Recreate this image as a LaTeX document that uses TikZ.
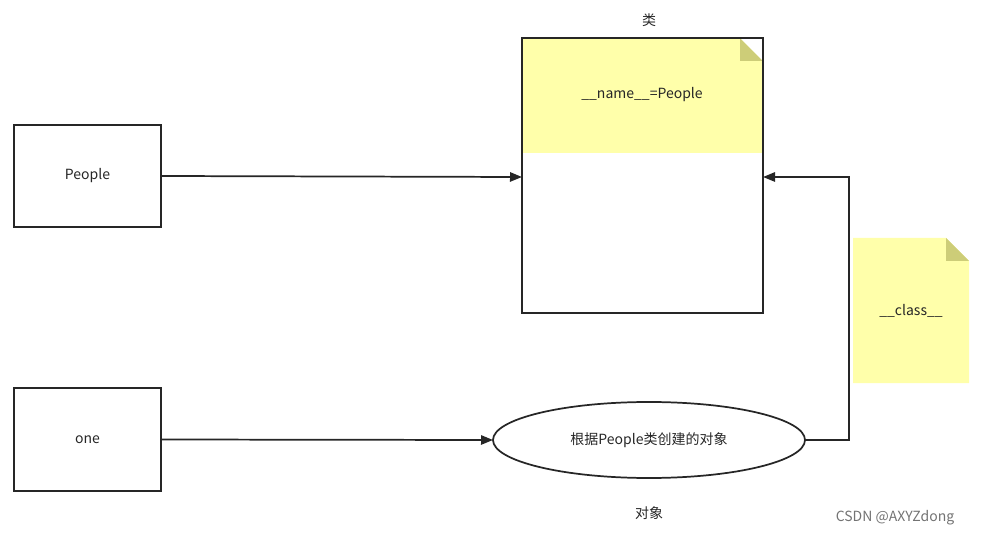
\documentclass[tikz,border=0pt]{standalone}
\usepackage{fontspec}
\setmainfont{Noto Sans CJK SC}
\usetikzlibrary{arrows.meta}
\definecolor{noteY}{HTML}{FFFFAA}
\definecolor{foldY}{HTML}{CDCD78}
\tikzset{
  box/.style={draw=black!85,line width=1.3pt},
  conn/.style={draw=black!85,line width=1.3pt,-{Triangle[length=9pt,width=7pt]}},
  txt/.style={font=\fontsize{10.5pt}{12pt}\selectfont,text=black!85}
}
\begin{document}
\begin{tikzpicture}[x=0.75pt,y=-0.75pt]
\useasboundingbox (0,0) rectangle (989,538);
% People / one boxes
\node[box,minimum width=110.25pt,minimum height=76.5pt,txt] (people) at (87.5,176) {People};
\node[box,minimum width=110.25pt,minimum height=77.25pt,txt] (one) at (87.5,439.5) {one};
% class box
\fill[noteY] (522,38) rectangle (763,153);
\fill[foldY] (740,38) -- (763,61) -- (740,61) -- cycle;
\fill[white] (740,38) -- (763,38) -- (763,61) -- cycle;
\draw[box] (522,38) rectangle (763,313);
\node[txt] (cname) at (642,95) {\_\_name\_\_=People};
\node[txt] (clabel) at (649,20) {类};
\coordinate (cwest) at (522,177);
\coordinate (ceast) at (763,177);
% note
\fill[noteY] (853,238) -- (946,238) -- (969,261) -- (969,383) -- (853,383) -- cycle;
\fill[foldY] (946,238) -- (969,261) -- (946,261) -- cycle;
\node[txt] (note) at (911,311) {\_\_class\_\_};
% ellipse
\draw[box] (649,440) ellipse [x radius=156, y radius=38];
\node[txt] (obj) at (649,440) {根据People类创建的对象};
\coordinate (ewest) at (493,440);
\coordinate (eeast) at (805,440);
\node[txt] (olabel) at (649,513) {对象};
% connectors
\draw[conn] (people.east) -- (cwest);
\draw[conn] (one.east) -- (ewest);
\draw[conn] (eeast) -- (849,440) -- (849,177) -- (ceast);
% watermark
\node[txt,text=black!55] (wm) at (895,518) {CSDN @AXYZdong};
\end{tikzpicture}
\end{document}
